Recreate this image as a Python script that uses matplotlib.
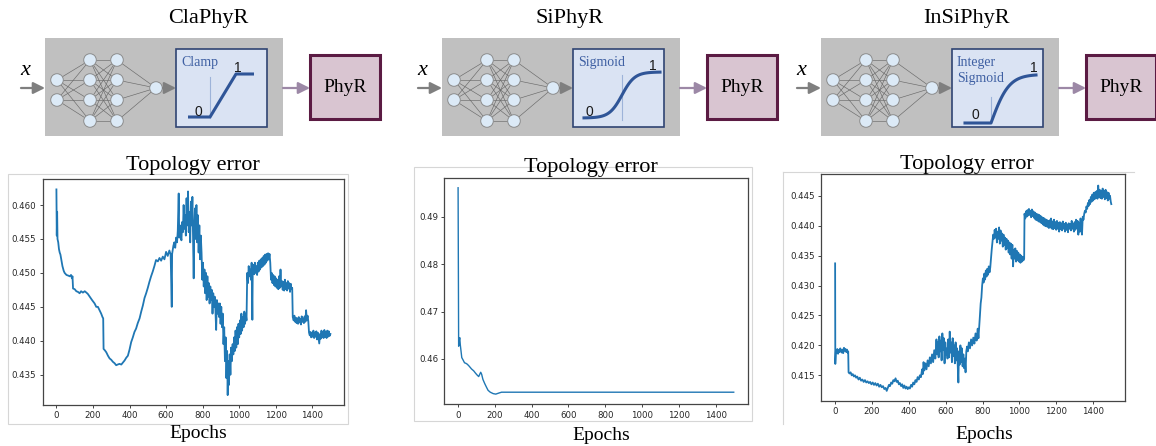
import numpy as np
import matplotlib
matplotlib.use('Agg')
from matplotlib import pyplot as plt
from matplotlib.patches import Rectangle, Circle

W, H = 1156, 446  # tamanho da figura em pixels

# ---- dados (época, erro de topologia) ----
cla_pts = [(0, .4623), (2, .4555), (4, .4590), (6, .4550), (10, .4545), (14, .4535), (18, .4530), (22, .4527),
           (28, .4518), (33, .4510), (40, .4503), (45, .4500), (55, .4497), (65, .4496), (73, .4495), (80, .4497),
           (85, .4492), (88, .4495), (91, .4477), (100, .4476), (109, .4473), (118, .4472), (127, .4470),
           (135, .4473), (145, .4471), (155, .4473), (164, .4471), (172, .4469), (182, .4465), (195, .4460),
           (209, .4455), (218, .4450), (227, .4450), (236, .4445), (245, .4440), (252, .4435), (256, .4433),
           (258, .4388), (265, .4386), (273, .4383), (282, .4378), (291, .4374), (300, .4372), (309, .4369),
           (318, .4367), (327, .4364), (335, .4365), (345, .4366), (355, .4365), (364, .4368), (373, .4371),
           (382, .4375), (391, .4378), (400, .4387), (409, .4398), (418, .4405), (427, .4413), (436, .4418),
           (445, .4426), (455, .4433), (464, .4443), (473, .4452), (482, .4463), (491, .4470), (500, .4478),
           (509, .4487), (518, .4495), (527, .4502), (536, .4510), (545, .4519), (555, .4517), (564, .4522),
           (573, .4518), (582, .4524), (591, .4520), (600, .4531), (609, .4525), (618, .4533), (625, .4527),
           (631, .4450), (633, .4528), (640, .4540), (645, .4545), (650, .4537), (655, .4552), (660, .4545),
           (664, .4562), (669, .4617), (672, .4552), (676, .4570), (680, .4555), (684, .4548), (688, .4575),
           (692, .4560), (696, .4600), (700, .4565), (704, .4585), (708, .4555), (712, .4610), (716, .4570),
           (720, .4620), (724, .4560), (728, .4590), (732, .4545), (736, .4605), (740, .4570), (744, .4612),
           (748, .4540), (751, .4492), (754, .4560), (758, .4595), (762, .4550), (766, .4600), (770, .4545),
           (774, .4585), (778, .4530), (782, .4570), (786, .4520), (790, .4555), (794, .4530), (798, .4490),
           (802, .4515), (806, .4480), (810, .4505), (814, .4470), (818, .4500), (822, .4460), (826, .4495),
           (830, .4465), (834, .4485), (838, .4455), (842, .4480), (846, .4460), (850, .4475), (854, .4440),
           (858, .4470), (862, .4450), (866, .4465), (870, .4445), (874, .4416), (878, .4460), (882, .4440),
           (886, .4455), (890, .4435), (894, .4455), (898, .4425), (902, .4450), (906, .4420), (910, .4440),
           (914, .4395), (918, .4420), (922, .4370), (926, .4405), (930, .4345), (934, .4385), (937, .4320),
           (940, .4370), (944, .4335), (948, .4380), (952, .4350), (956, .4390), (960, .4370), (964, .4395),
           (968, .4380), (972, .4405), (976, .4385), (980, .4415), (984, .4390), (988, .4420), (992, .4395),
           (996, .4425), (1000, .4405), (1004, .4430), (1008, .4410), (1012, .4440), (1016, .4415),
           (1020, .4435), (1024, .4420), (1028, .4443), (1032, .4425), (1036, .4440), (1040, .4430),
           (1044, .4500), (1048, .4485), (1052, .4510), (1056, .4495), (1060, .4505), (1064, .4490),
           (1068, .4515), (1072, .4431), (1074, .4500), (1078, .4512), (1082, .4498), (1086, .4515),
           (1090, .4500), (1094, .4510), (1098, .4497), (1102, .4515), (1106, .4502), (1110, .4518),
           (1114, .4505), (1118, .4520), (1122, .4508), (1126, .4522), (1130, .4510), (1134, .4525),
           (1138, .4512), (1142, .4527), (1146, .4515), (1150, .4528), (1154, .4518), (1158, .4529),
           (1162, .4520), (1166, .4528), (1170, .4515), (1174, .4490), (1178, .4500), (1182, .4485),
           (1186, .4497), (1190, .4482), (1194, .4495), (1198, .4480), (1202, .4492), (1206, .4478),
           (1210, .4490), (1214, .4476), (1218, .4495), (1222, .4478), (1226, .4505), (1230, .4480),
           (1234, .4488), (1238, .4475), (1242, .4487), (1246, .4474), (1250, .4490), (1254, .4476),
           (1258, .4485), (1262, .4474), (1266, .4488), (1270, .4477), (1274, .4485), (1278, .4472),
           (1282, .4484), (1286, .4476), (1290, .4478), (1293, .4435), (1298, .4430), (1302, .4437),
           (1306, .4428), (1310, .4434), (1314, .4426), (1318, .4433), (1322, .4425), (1326, .4435),
           (1330, .4427), (1334, .4432), (1338, .4424), (1342, .4436), (1346, .4428), (1350, .4433),
           (1354, .4426), (1358, .4436), (1362, .4428), (1366, .4445), (1370, .4430), (1374, .4437),
           (1378, .4429), (1382, .4412), (1386, .4408), (1390, .4413), (1394, .4405), (1398, .4412),
           (1402, .4406), (1406, .4415), (1410, .4404), (1414, .4412), (1418, .4406), (1422, .4414),
           (1426, .4402), (1430, .4412), (1434, .4404), (1438, .4396), (1442, .4410), (1446, .4403),
           (1450, .4415), (1454, .4405), (1458, .4413), (1462, .4404), (1466, .4416), (1470, .4406),
           (1474, .4413), (1478, .4404), (1482, .4415), (1486, .4406), (1490, .4414), (1494, .4407),
           (1499, .4410)]

si_pts = [(0, .4961), (3, .4627), (6, .4638), (9, .4645), (12, .4630), (15, .4620), (20, .4603), (27, .4598),
          (35, .4592), (42, .4591), (50, .4589), (60, .4585), (73, .4579), (85, .4575), (95, .4570),
          (104, .4566), (112, .4563), (118, .4568), (123, .4572), (128, .4568), (135, .4557), (145, .4548),
          (155, .4540), (163, .4534), (175, .4530), (191, .4527), (205, .4526), (220, .4528), (236, .4530),
          (300, .4530), (600, .4530), (900, .4530), (1200, .4530), (1499, .4530)]

insi_pts = [(0, .4337), (1, .4169), (4, .4190), (8, .4187), (12, .4194), (16, .4186), (20, .4192), (24, .4189),
            (28, .4195), (32, .4190), (36, .4188), (40, .4193), (44, .4187), (48, .4196), (52, .4191),
            (56, .4194), (60, .4189), (64, .4193), (68, .4188), (71, .4190), (73, .4155), (78, .4153),
            (84, .4155), (90, .4150), (96, .4152), (102, .4148), (108, .4150), (114, .4146), (120, .4148),
            (127, .4143), (134, .4146), (141, .4141), (148, .4143), (155, .4139), (162, .4142), (169, .4138),
            (176, .4140), (183, .4137), (190, .4139), (197, .4135), (204, .4138), (211, .4134), (218, .4137),
            (225, .4133), (232, .4136), (239, .4131), (246, .4134), (253, .4130), (260, .4132), (267, .4127),
            (274, .4129), (280, .4124), (286, .4129), (292, .4134), (298, .4132), (304, .4138), (310, .4136),
            (316, .4142), (322, .4140), (328, .4145), (334, .4139), (340, .4141), (346, .4135), (352, .4137),
            (358, .4132), (364, .4135), (370, .4129), (376, .4133), (382, .4128), (388, .4131), (394, .4127),
            (400, .4130), (406, .4128), (412, .4134), (418, .4131), (424, .4138), (430, .4135), (436, .4142),
            (442, .4139), (448, .4147), (454, .4143), (460, .4150), (466, .4147), (472, .4160), (476, .4152),
            (480, .4172), (484, .4158), (490, .4170), (496, .4160), (502, .4175), (508, .4165), (514, .4180),
            (520, .4170), (526, .4185), (532, .4172), (538, .4192), (544, .4178), (550, .4210), (554, .4185),
            (558, .4205), (562, .4180), (566, .4215), (570, .4190), (574, .4208), (578, .4175), (582, .4220),
            (586, .4192), (590, .4212), (594, .4170), (598, .4205), (602, .4185), (606, .4195), (610, .4178),
            (614, .4210), (618, .4180), (622, .4223), (626, .4188), (630, .4205), (634, .4172), (638, .4212),
            (642, .4182), (646, .4200), (650, .4170), (654, .4205), (658, .4175), (662, .4195), (666, .4165),
            (669, .4138), (672, .4190), (676, .4168), (680, .4200), (684, .4172), (688, .4195), (692, .4165),
            (696, .4185), (700, .4162), (704, .4178), (708, .4155), (712, .4190), (716, .4198), (720, .4190),
            (726, .4205), (732, .4195), (738, .4210), (744, .4200), (750, .4213), (756, .4203), (762, .4220),
            (768, .4208), (774, .4228), (778, .4212), (782, .4230), (786, .4250), (790, .4270), (794, .4280),
            (798, .4300), (802, .4312), (806, .4305), (810, .4320), (814, .4310), (818, .4325), (822, .4315),
            (826, .4328), (830, .4318), (834, .4332), (838, .4322), (842, .4330), (846, .4345), (850, .4360),
            (854, .4372), (858, .4385), (862, .4378), (866, .4393), (870, .4380), (874, .4395), (878, .4372),
            (882, .4390), (886, .4378), (890, .4397), (894, .4370), (898, .4392), (902, .4375), (906, .4387),
            (910, .4365), (914, .4385), (918, .4368), (922, .4380), (926, .4360), (930, .4378), (934, .4362),
            (938, .4375), (942, .4355), (946, .4372), (950, .4352), (954, .4370), (958, .4345), (962, .4368),
            (966, .4332), (970, .4360), (974, .4345), (978, .4362), (982, .4340), (986, .4358), (990, .4342),
            (994, .4355), (998, .4340), (1002, .4352), (1006, .4338), (1010, .4350), (1014, .4340),
            (1018, .4348), (1022, .4342), (1026, .4345), (1028, .4420), (1032, .4412), (1036, .4424),
            (1040, .4415), (1044, .4426), (1048, .4417), (1052, .4428), (1056, .4418), (1060, .4425),
            (1064, .4414), (1068, .4427), (1072, .4416), (1076, .4424), (1080, .4413), (1084, .4422),
            (1088, .4410), (1092, .4420), (1096, .4409), (1100, .4419), (1104, .4407), (1108, .4418),
            (1112, .4406), (1116, .4416), (1120, .4404), (1124, .4414), (1128, .4402), (1132, .4413),
            (1136, .4400), (1140, .4411), (1144, .4399), (1148, .4410), (1152, .4398), (1156, .4408),
            (1160, .4396), (1164, .4409), (1168, .4397), (1172, .4412), (1176, .4395), (1180, .4407),
            (1184, .4394), (1188, .4410), (1192, .4396), (1196, .4406), (1200, .4393), (1204, .4408),
            (1208, .4395), (1212, .4405), (1216, .4390), (1220, .4406), (1224, .4394), (1228, .4404),
            (1232, .4392), (1236, .4407), (1240, .4395), (1244, .4403), (1248, .4390), (1252, .4405),
            (1256, .4393), (1260, .4402), (1264, .4389), (1268, .4404), (1272, .4395), (1276, .4403),
            (1280, .4392), (1284, .4408), (1288, .4395), (1292, .4403), (1296, .4390), (1300, .4406),
            (1304, .4393), (1308, .4410), (1312, .4396), (1316, .4408), (1320, .4385), (1324, .4405),
            (1328, .4390), (1332, .4412), (1336, .4395), (1340, .4385), (1344, .4415), (1348, .4410),
            (1352, .4420), (1356, .4425), (1360, .4422), (1364, .4432), (1368, .4428), (1372, .4438),
            (1376, .4433), (1380, .4443), (1384, .4436), (1388, .4448), (1392, .4440), (1396, .4452),
            (1400, .4442), (1404, .4455), (1408, .4444), (1412, .4456), (1416, .4446), (1420, .4458),
            (1424, .4445), (1428, .4467), (1432, .4448), (1436, .4460), (1440, .4446), (1444, .4458),
            (1448, .4445), (1452, .4462), (1456, .4448), (1460, .4458), (1464, .4444), (1468, .4460),
            (1472, .4446), (1476, .4456), (1480, .4442), (1484, .4455), (1488, .4445), (1492, .4450),
            (1496, .4440), (1499, .4436)]

titulos = ['ClaPhyR', 'SiPhyR', 'InSiPhyR']
ativacoes = ['clamp', 'sigmoid', 'intsig']
rotulos_ativ = ['Clamp', 'Sigmoid', 'Integer\nSigmoid']
series = [cla_pts, si_pts, insi_pts]

# ---- layout (pixels) ----
x0s = [45, 442, 821]  # borda esquerda da caixa cinza
titulo_x = [208, 570, 967]
vlinha = [165, 180, 170]  # linha vertical dentro da caixa de ativação (relativo)
eixos_px = [(42.7, 179.3, 344.3, 405.0), (444.3, 177.7, 747.7, 404.3), (821.3, 174.3, 1125.3, 401.0)]
ylims = [(0.43054, 0.46379), (0.45045, 0.49822), (0.41071, 0.44858)]
yticks = [np.arange(0.435, 0.4601, 0.005), np.arange(0.46, 0.4901, 0.01), np.arange(0.415, 0.4451, 0.005)]
yfmt = ['%.3f', '%.2f', '%.3f']
larguras = [1.3, 1.0, 1.3]  # espessura da linha por painel
molduras = [(8, 174, 348, 424), (414, 167, 752, 421), (783, 172, 1134, 424)]
topo_txt = [(192.5, 170), (590.8, 171.7), (966.7, 169.3)]
epoch_txt = [(198.3, 438.3), (601.3, 440), (984.7, 438.7)]

serif = 'Liberation Serif'
cinza_seta = '#7f7f7f'
malva_seta = '#9c88a6'
azul_txt = '#3f60a3'
azul_curva = '#2f5597'

fig = plt.figure(figsize=(W / 100, H / 100), dpi=100)
bg = fig.add_axes([0, 0, 1, 1])
bg.set_xlim(0, W)
bg.set_ylim(H, 0)
bg.axis('off')


def seta(ax, x_ini, x_fim, y, cor):
    ax.annotate('', xy=(x_fim, y), xytext=(x_ini, y),
                arrowprops=dict(arrowstyle='-|>,head_length=0.7,head_width=0.35', color=cor, lw=1.6,
                                shrinkA=0, shrinkB=0, mutation_scale=10))


def diagrama(ax, x0, tipo, rotulo, vl):
    ax.add_patch(Rectangle((x0, 38), 238, 98, fc='#c0c0c0', ec='none', zorder=1))
    seta(ax, x0 - 24, x0, 88, cinza_seta)
    ax.text(x0 - 20, 75, 'x', family=serif, style='italic', fontsize=16, ha='center', va='baseline')

    # rede neural
    camadas = [(x0 + 12, [80, 100]), (x0 + 45, [60, 80, 100, 121]), (x0 + 72, [60, 80, 100, 121]),
               (x0 + 111, [88])]
    for (xa, ya), (xb, yb) in zip(camadas[:-1], camadas[1:]):
        for a in ya:
            for b in yb:
                ax.plot([xa, xb], [a, b], color='#6a6a6a', lw=0.45, zorder=2)
    for xc, ys in camadas:
        for yc in ys:
            ax.add_patch(Circle((xc, yc), 6.3, fc='#dceaf7', ec='#8c8c8c', lw=0.7, zorder=3))
    seta(ax, x0 + 118, x0 + 131, 88, cinza_seta)

    # caixa da ativação
    ax.add_patch(Rectangle((x0 + 131, 49), 91, 78, fc='#dae3f3', ec='#2f4472', lw=1.2, zorder=2))
    ax.text(x0 + 136, 56, rotulo, family=serif, fontsize=10, color=azul_txt, va='top', ha='left',
            linespacing=1.3, zorder=4)
    if tipo == 'clamp':
        ax.plot([x0 + vl] * 2, [77, 118], color='#9db3d9', lw=0.8, zorder=3)
        ax.plot([x0 + 143, x0 + 165, x0 + 191, x0 + 209], [117, 117, 74, 74], color=azul_curva, lw=2.2,
                solid_capstyle='butt', zorder=4)
        p0, p1 = (x0 + 153, 112), (x0 + 193, 68)
    elif tipo == 'sigmoid':
        ax.plot([x0 + vl] * 2, [75, 120], color='#9db3d9', lw=0.8, zorder=3)
        t = np.linspace(-1, 1, 80)
        ax.plot(x0 + vl + 38 * t, 118 - 46 / (1 + np.exp(-6 * t)), color=azul_curva, lw=2.2, zorder=4)
        p0, p1 = (x0 + 147, 112), (x0 + 211, 66)
    else:
        ax.plot([x0 + vl] * 2, [97, 123], color='#9db3d9', lw=0.8, zorder=3)
        u = np.linspace(0, 1, 60)
        xs = np.concatenate([[x0 + 144], x0 + vl + 45 * u])
        ys = np.concatenate([[123], 123 - 48 * np.tanh(2.5 * u) / np.tanh(2.5)])
        ax.plot(xs, ys, color=azul_curva, lw=2.2, zorder=4)
        p0, p1 = (x0 + 154, 115), (x0 + 213, 68)
    ax.text(*p0, '0', family='Liberation Sans', fontsize=10, color='#1a1a1a', ha='center', va='center', zorder=5)
    ax.text(*p1, '1', family='Liberation Sans', fontsize=10, color='#1a1a1a', ha='center', va='center', zorder=5)

    # PhyR
    seta(ax, x0 + 238, x0 + 265, 88, malva_seta)
    ax.add_patch(Rectangle((x0 + 265, 55), 70, 64, fc='#d9c5d1', ec='#5b1b43', lw=2.2, zorder=2))
    ax.text(x0 + 300, 88, 'PhyR', family=serif, fontsize=14, ha='center', va='center', zorder=3)


for i in range(3):
    x0 = x0s[i]
    bg.text(titulo_x[i], 23, titulos[i], family=serif, fontsize=16, ha='center', va='baseline')
    diagrama(bg, x0, ativacoes[i], rotulos_ativ[i], vlinha[i])

    # moldura clara da figura incorporada
    l, t, r, b = molduras[i]
    if i < 2:
        bg.add_patch(Rectangle((l, t), r - l, b - t, fc='white', ec='#d6d6d6', lw=0.8))
    else:
        bg.plot([l, r], [t, t], color='#d6d6d6', lw=0.8)
        bg.plot([l, l], [t, b], color='#d6d6d6', lw=0.8)
    bg.text(*topo_txt[i], 'Topology error', family=serif, fontsize=16, ha='center', va='baseline')
    bg.text(*epoch_txt[i], 'Epochs', family=serif, fontsize=14, ha='center', va='baseline')

    # gráfico de linha
    l, t, r, b = eixos_px[i]
    ax = fig.add_axes([l / W, 1 - b / H, (r - l) / W, (b - t) / H])
    ep, err = zip(*series[i])
    ax.plot(ep, err, color='#1f77b4', lw=larguras[i])
    ax.set_xlim(-75, 1575)
    ax.set_ylim(*ylims[i])
    ax.set_xticks(range(0, 1401, 200))
    ax.set_yticks(yticks[i])
    ax.set_yticklabels([yfmt[i] % v for v in yticks[i]])
    ax.tick_params(labelsize=6.2, length=2.5, width=0.6, pad=2, colors='#262626')
    for s in ax.spines.values():
        s.set_color('#454545')
        s.set_linewidth(0.9)

fig.savefig('out.png', dpi=100)
